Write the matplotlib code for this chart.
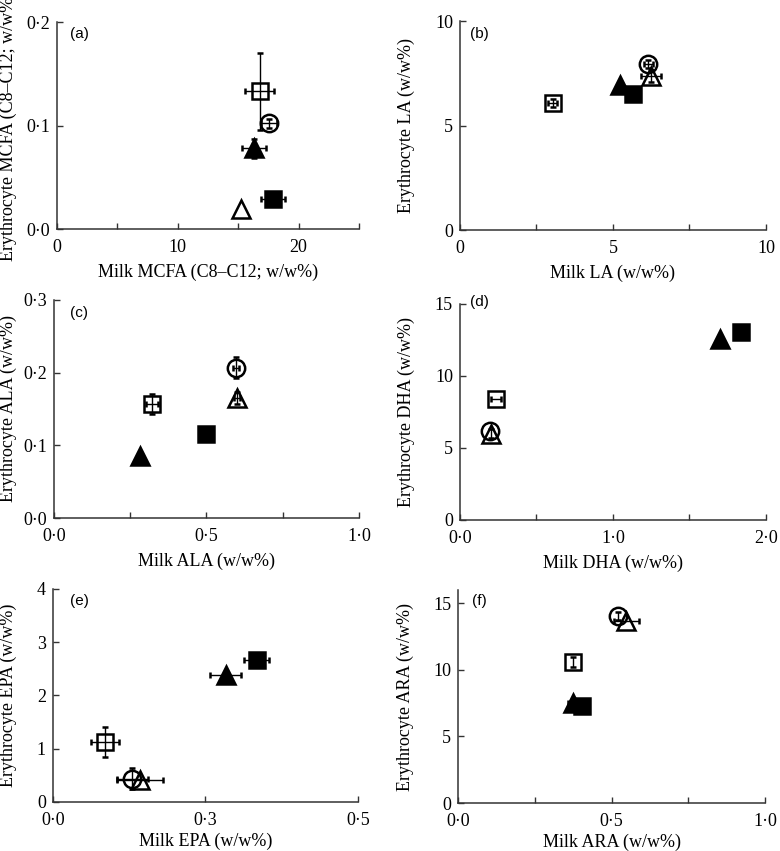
import matplotlib
matplotlib.use("Agg")
import matplotlib.pyplot as plt
from matplotlib.ticker import FixedLocator, FixedFormatter

plt.rcParams["font.family"] = ["Liberation Serif", "DejaVu Serif"]
plt.rcParams["font.size"] = 12

# group order: open square, open circle, filled triangle, open triangle, filled square
groups = ["sq_open", "circ_open", "tri_fill", "tri_open", "sq_fill"]

# (a) MCFA
mcfa_milk = [16.8, 17.55, 16.3, 15.2, 17.9]
mcfa_ery = [0.133, 0.102, 0.078, 0.019, 0.029]
mcfa_xerr = [1.2, 0.7, 1.0, 0.0, 1.0]
mcfa_yerr = [0.037, 0.004, 0.009, 0.0, 0.002]

# (b) LA
la_milk = [3.03, 6.15, 5.23, 6.24, 5.64]
la_ery = [6.08, 7.93, 6.93, 7.36, 6.50]
la_xerr = [0.15, 0.15, 0.0, 0.34, 0.0]
la_yerr = [0.2, 0.2, 0.0, 0.3, 0.0]

# (c) ALA
ala_milk = [0.322, 0.596, 0.281, 0.60, 0.50]
ala_ery = [0.157, 0.207, 0.085, 0.165, 0.115]
ala_xerr = [0.02, 0.01, 0.0, 0.01, 0.0]
ala_yerr = [0.014, 0.015, 0.0, 0.008, 0.0]

# (d) DHA
dha_milk = [0.236, 0.196, 1.70, 0.20, 1.837]
dha_ery = [8.4, 6.15, 12.6, 6.0, 13.08]
dha_xerr = [0.03, 0.0, 0.0, 0.0, 0.0]
dha_yerr = [0.0, 0.0, 0.2, 0.3, 0.0]

# (e) EPA
epa_milk = [0.086, 0.130, 0.283, 0.143, 0.334]
epa_ery = [1.13, 0.44, 2.39, 0.41, 2.66]
epa_xerr = [0.023, 0.025, 0.026, 0.038, 0.02]
epa_yerr = [0.28, 0.19, 0.0, 0.0, 0.0]

# (f) ARA
ara_milk = [0.376, 0.521, 0.374, 0.548, 0.403]
ara_ery = [10.6, 14.06, 7.53, 13.7, 7.30]
ara_xerr = [0.0, 0.0, 0.015, 0.04, 0.0]
ara_yerr = [0.35, 0.3, 0.0, 0.0, 0.0]

styles = {
    "sq_open": dict(marker="s", mfc="none", ms=12),
    "circ_open": dict(marker="o", mfc="none", ms=12.5),
    "tri_fill": dict(marker="^", mfc="black", ms=12.5),
    "tri_open": dict(marker="^", mfc="none", ms=12.5),
    "sq_fill": dict(marker="s", mfc="black", ms=12),
}

panels = [
    dict(tag="(a)", tagpos=(70, 27), x=mcfa_milk, y=mcfa_ery, xe=mcfa_xerr, ye=mcfa_yerr,
         rect=[0.0731, 0.7309, 0.3872, 0.2432], xlim=(0, 25), ylim=(0, 0.2),
         xt=[0, 5, 10, 15, 20, 25], xl=["0", "", "10", "", "20", ""],
         yt=[0, 0.1, 0.2], yl=["0·0", "0·1", "0·2"], lp=6,
         xlabel="Milk MCFA (C8–C12; w/w%)", ylabel="Erythrocyte MCFA (C8–C12; w/w%)", ylx=-0.132),
    dict(tag="(b)", tagpos=(470, 27), x=la_milk, y=la_ery, xe=la_xerr, ye=la_yerr,
         rect=[0.5897, 0.7297, 0.3923, 0.2456], xlim=(0, 10), ylim=(0, 10),
         xt=[0, 2.5, 5, 7.5, 10], xl=["0", "", "5", "", "10"],
         yt=[0, 5, 10], yl=["0", "5", "10"], lp=6,
         xlabel="Milk LA (w/w%)", ylabel="Erythrocyte LA (w/w%)", ylx=-0.147),
    dict(tag="(c)", tagpos=(70, 306), x=ala_milk, y=ala_ery, xe=ala_xerr, ye=ala_yerr,
         rect=[0.0692, 0.3913, 0.391, 0.2562], xlim=(0, 1), ylim=(0, 0.3),
         xt=[0, 0.25, 0.5, 0.75, 1.0], xl=["0·0", "", "0·5", "", "1·0"],
         yt=[0, 0.1, 0.2, 0.3], yl=["0·0", "0·1", "0·2", "0·3"], lp=6,
         xlabel="Milk ALA (w/w%)", ylabel="Erythrocyte ALA (w/w%)", ylx=-0.122),
    dict(tag="(d)", tagpos=(470, 295), x=dha_milk, y=dha_ery, xe=dha_xerr, ye=dha_yerr,
         rect=[0.5897, 0.389, 0.3923, 0.2538], xlim=(0, 2), ylim=(0, 15),
         xt=[0, 0.5, 1.0, 1.5, 2.0], xl=["0·0", "", "1·0", "", "2·0"],
         yt=[0, 5, 10, 15], yl=["0", "5", "10", "15"], lp=6,
         xlabel="Milk DHA (w/w%)", ylabel="Erythrocyte DHA (w/w%)", ylx=-0.147),
    dict(tag="(e)", tagpos=(70, 594), x=epa_milk, y=epa_ery, xe=epa_xerr, ye=epa_yerr,
         rect=[0.0679, 0.0576, 0.391, 0.2503], xlim=(0, 0.5), ylim=(0, 4),
         xt=[0, 0.25, 0.5], xl=["0·0", "0·3", "0·5"],
         yt=[0, 1, 2, 3, 4], yl=["0", "1", "2", "3", "4"], lp=3,
         xlabel="Milk EPA (w/w%)", ylabel="Erythrocyte EPA (w/w%)", ylx=-0.119),
    dict(tag="(f)", tagpos=(472, 594), x=ara_milk, y=ara_ery, xe=ara_xerr, ye=ara_yerr,
         rect=[0.5872, 0.0564, 0.3936, 0.2503], xlim=(0, 1), ylim=(0, 16),
         xt=[0, 0.25, 0.5, 0.75, 1.0], xl=["0·0", "", "0·5", "", "1·0"],
         yt=[0, 5, 10, 15], yl=["0", "5", "10", "15"], lp=3,
         xlabel="Milk ARA (w/w%)", ylabel="Erythrocyte ARA (w/w%)", ylx=-0.143),
]

W, H = 780, 851
fig = plt.figure(figsize=(W / 100, H / 100), dpi=100)

for p in panels:
    ax = fig.add_axes(p["rect"])
    for i, g in enumerate(groups):
        st = styles[g]
        ax.errorbar(p["x"][i], p["y"][i],
                    xerr=p["xe"][i] if p["xe"][i] > 0 else None,
                    yerr=p["ye"][i] if p["ye"][i] > 0 else None,
                    fmt=st["marker"], mfc=st["mfc"], mec="black", ms=st["ms"], mew=1.8,
                    ecolor="black", elinewidth=1.0, capsize=2.5, capthick=1.0,
                    clip_on=False, zorder=3)
    ax.set_xlim(*p["xlim"])
    ax.set_ylim(*p["ylim"])
    ax.xaxis.set_major_locator(FixedLocator(p["xt"]))
    ax.xaxis.set_major_formatter(FixedFormatter(p["xl"]))
    ax.yaxis.set_major_locator(FixedLocator(p["yt"]))
    ax.yaxis.set_major_formatter(FixedFormatter(p["yl"]))
    for side in ["top", "right"]:
        ax.spines[side].set_visible(False)
    for side in ["left", "bottom"]:
        ax.spines[side].set_linewidth(1.1)
        ax.spines[side].set_color("#333333")
    ax.tick_params(direction="in", length=4, width=1, colors="#333333",
                   labelcolor="black", labelsize=13)
    ax.tick_params(axis="x", pad=7)
    ax.tick_params(axis="y", pad=5)
    ax.set_xlabel(p["xlabel"], fontsize=13, labelpad=p["lp"])
    ax.set_ylabel(p["ylabel"], fontsize=13)
    ax.yaxis.set_label_coords(p["ylx"], 0.5)
    tx, ty = p["tagpos"]
    fig.text(tx / W, 1 - ty / H, p["tag"], ha="left", va="top",
             fontsize=11, family=["Liberation Sans", "DejaVu Sans"])

fig.savefig("out.png", dpi=100)
